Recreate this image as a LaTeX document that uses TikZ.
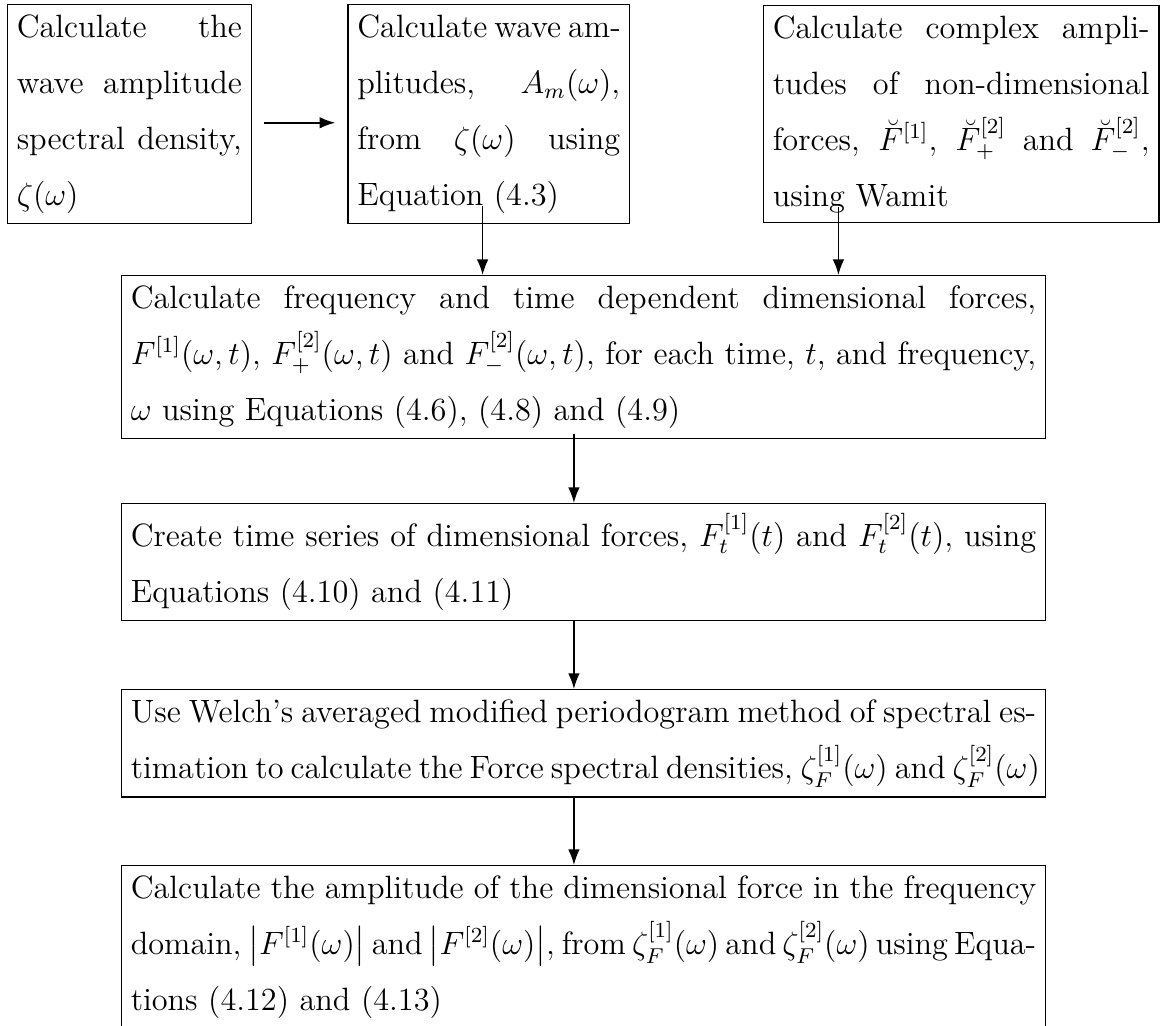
\documentclass[12pt,tikz,border=0pt]{standalone}
\usepackage{amsmath}
\usetikzlibrary{arrows.meta}
\newcommand\jl[1]{\hbox to\hsize{#1}}
\newcommand\lastl[1]{\hbox{#1}}
\newcommand\flowtext[2]{\vbox{\hsize=#1\baselineskip=20.8pt\lineskiplimit=0pt #2}}
\tikzset{
  flow/.style={draw, line width=0.5pt, inner xsep=3.5pt, inner ysep=3.7pt, anchor=north west,
    font=\fontsize{12}{14.5}\selectfont},
  arr/.style={line width=0.6pt, -{Latex[length=5.8pt,width=4.3pt]}}
}
\begin{document}
\begin{tikzpicture}[x={(0.37175pt,0)}, y={(0,-0.37175pt)}]
\path[use as bounding box, clip] (0,0) rectangle (1174,1025);

\node[flow] (b1) at (6.7,4) {\flowtext{83.7pt}{%
  \jl{Calculate the}
  \jl{wave amplitude}
  \jl{spectral density,}
  \lastl{$\zeta(\omega)$}}};

\node[flow] (b2) at (347.3,4) {\flowtext{97.7pt}{%
  \jl{Calculate wave am-}
  \jl{plitudes, $A_m(\omega)$,}
  \jl{from $\zeta(\omega)$ using}
  \lastl{Equation (4.3)}}};

\node[flow] (b3) at (762.7,5) {\flowtext{140.1pt}{%
  \jl{Calculate complex ampli-}
  \jl{tudes of non-dimensional}
  \jl{forces, $\breve{F}^{[1]}$, $\breve{F}^{[2]}_{+}$ and $\breve{F}^{[2]}_{-}$,}
  \lastl{using Wamit}}};

\node[flow] (b4) at (120.7,275) {\flowtext{336.6pt}{%
  \jl{Calculate frequency and time dependent dimensional forces,}
  \jl{$F^{[1]}(\omega,t)$, $F^{[2]}_{+}(\omega,t)$ and $F^{[2]}_{-}(\omega,t)$, for each time, $t$, and frequency,}
  \lastl{$\omega$ using Equations (4.6), (4.8) and (4.9)}}};

\node[flow] (b5) at (120.7,503) {\flowtext{336.6pt}{%
  \jl{Create time series of dimensional forces, $F^{[1]}_t(t)$ and $F^{[2]}_t(t)$, using}
  \lastl{Equations (4.10) and (4.11)}}};

\node[flow] (b6) at (120.7,689) {\flowtext{336.6pt}{%
  \jl{Use Welch's averaged modified periodogram method of spectral es-}
  \jl{timation to calculate the Force spectral densities, $\zeta^{[1]}_F(\omega)$ and $\zeta^{[2]}_F(\omega)$\hfil}}};

\node[flow] (b7) at (120.7,865) {\flowtext{336.6pt}{%
  \jl{Calculate the amplitude of the dimensional force in the frequency}
  \jl{\spaceskip=3.6pt plus 2pt minus 2pt\xspaceskip=3.8pt plus 2pt minus 2pt domain, $\bigl|F^{[1]}(\omega)\bigr|$ and $\bigl|F^{[2]}(\omega)\bigr|$, from $\zeta^{[1]}_F(\omega)$ and $\zeta^{[2]}_F(\omega)$ using Equa-}
  \lastl{tions (4.12) and (4.13)}}};

% connectors
\coordinate (s1) at ([shift={(12,8.8)}]b1.east);
\draw[arr, shorten >=4.5pt] (s1) -- (s1 -| b2.west);
\coordinate (s2) at ([shift={(-6.2,-18)}]b2.south);
\draw[arr] (s2) -- (s2 |- b4.north);
\coordinate (s3) at ([shift={(-122.8,-16.3)}]b3.south);
\draw[arr] (s3) -- (s3 |- b4.north);
\coordinate (s4) at ([shift={(-9.6,-5)}]b4.south);
\draw[arr] (s4) -- (s4 |- b5.north);
\coordinate (s5) at ([shift={(-9.6,0)}]b5.south);
\draw[arr] (s5) -- (s5 |- b6.north);
\coordinate (s6) at ([shift={(-9.6,0)}]b6.south);
\draw[arr] (s6) -- (s6 |- b7.north);
\end{tikzpicture}
\end{document}
